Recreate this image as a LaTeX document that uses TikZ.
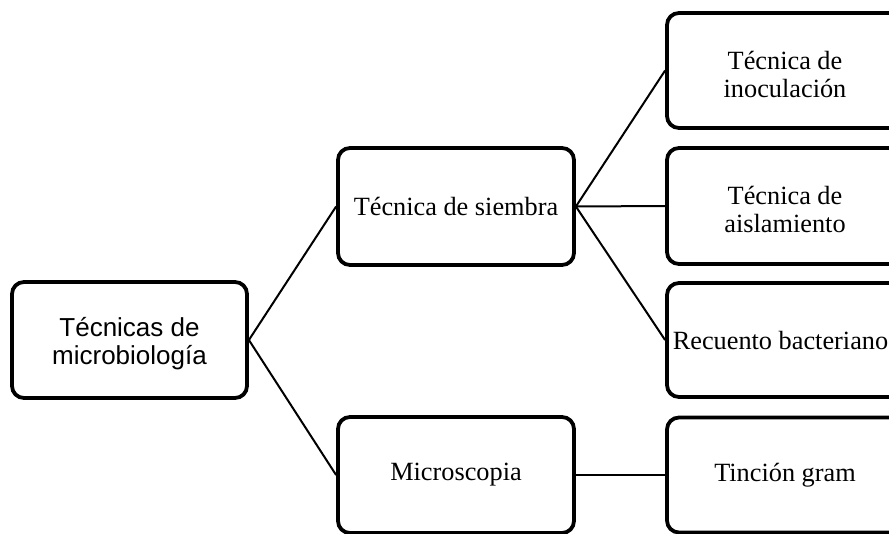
\documentclass[tikz,border=0pt]{standalone}
\usepackage{fontspec}
\setmainfont{Liberation Serif}
\newfontfamily\arialfont{Liberation Sans}
\newcommand{\toppad}{\rule{0pt}{26pt}}
\begin{document}
\begin{tikzpicture}[x=1pt,y=-1pt,
  box/.style={draw=black, line width=3.8pt, rounded corners=12pt, fill=white,
    minimum width=236pt, minimum height=116pt, inner sep=0pt, align=center,
    font=\fontsize{26.3}{28}\selectfont},
  link/.style={draw=black, line width=2pt}]
\useasboundingbox (0,0) rectangle (889,533);
\clip (0,0) rectangle (889,533);
\node[box, font=\arialfont\fontsize{26}{28}\selectfont, minimum width=235pt] (root) at (129.5,340) {\toppad Técnicas de\\microbiología};
\node[box, minimum height=117pt] (siembra) at (456,206.5) {Técnica de siembra};
\node[box] (micro) at (456,475) {Microscopia};
\node[box, minimum height=115pt] (inoc) at (785,70.5) {\toppad Técnica de\\inoculación};
\node[box] (aisl) at (785,206) {\toppad Técnica de\\aislamiento};
\node[box, minimum height=114pt] (recu) at (785,340) {Recuento bacteriano\hspace*{9pt}};
\node[box, minimum height=115pt] (tinc) at (785,475) {Tinción gram};
\draw[link] (root.east) -- (siembra.west);
\draw[link] (root.east) -- (micro.west);
\draw[link] (siembra.east) -- (inoc.west);
\draw[link] (siembra.east) -- (aisl.west);
\draw[link] (siembra.east) -- (recu.west);
\draw[link] (micro.east) -- (tinc.west);
\end{tikzpicture}
\end{document}
